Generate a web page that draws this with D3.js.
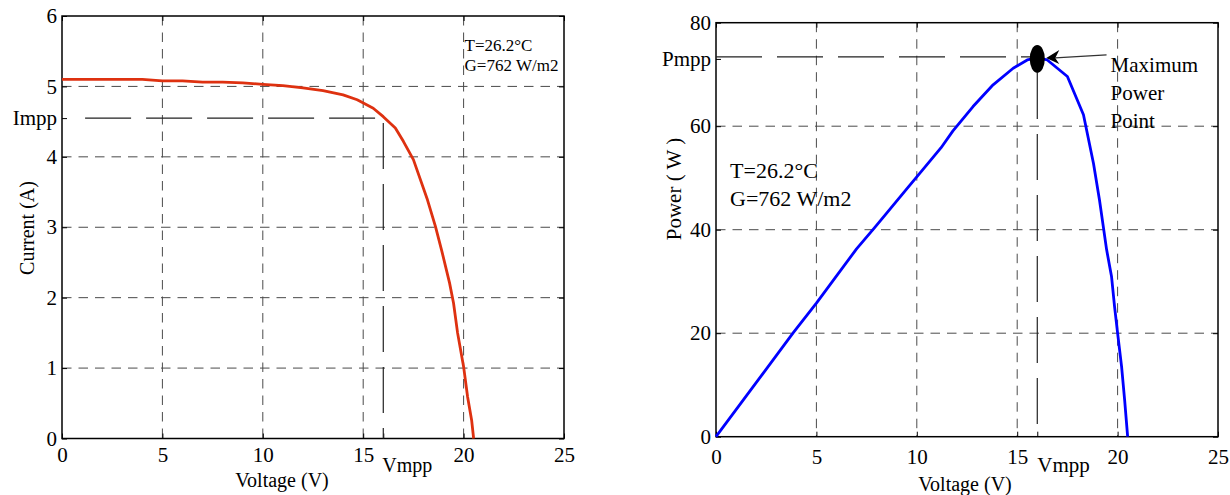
<!DOCTYPE html>
<html>
<head>
<meta charset="utf-8">
<script src="https://cdn.jsdelivr.net/npm/d3@7"></script>
<style>
  body { margin: 0; background: #fff; }
  svg { display: block; font-family: "Liberation Serif", "Times New Roman", serif; }
</style>
</head>
<body>
<svg id="fig" width="1230" height="495"></svg>
<script>
// ---- data ----
const voltageTicks = [0, 5, 10, 15, 20, 25];
const currentTicks = [0, 1, 2, 3, 4, 5, 6];
const powerTicks   = [0, 20, 40, 60, 80];

// I–V characteristic (V, A)
const ivVoltage = [0, 2, 4, 5, 6, 7, 8, 9, 10, 11, 12, 13, 14, 14.7, 15.5, 16, 16.6, 17, 17.5, 18.2, 18.6, 18.9, 19.3, 19.5, 19.7, 20, 20.2, 20.4, 20.5];
const ivCurrent = [5.10, 5.10, 5.10, 5.08, 5.08, 5.06, 5.06, 5.05, 5.03, 5.01, 4.98, 4.94, 4.88, 4.81, 4.69, 4.57, 4.41, 4.22, 3.96, 3.39, 3.01, 2.68, 2.21, 1.92, 1.50, 1.02, 0.59, 0.26, 0];

// P–V characteristic (V, W)
const pvVoltage = [0, 3.85, 5, 7.0, 7.9, 8.5, 9.5, 10.3, 11.2, 11.8, 12.8, 13.8, 14.8, 15.5, 16.0, 16.5, 17.5, 18.3, 18.8, 19.1, 19.45, 19.7, 19.85, 20.0, 20.2, 20.35, 20.5];
const pvPower   = [0, 20.1, 25.8, 36.3, 40.4, 43.2, 47.9, 51.6, 55.8, 59.1, 63.8, 68.0, 71.2, 72.8, 73.2, 72.8, 69.6, 62.2, 52.8, 45.7, 36.2, 30.9, 25.1, 20.0, 13.5, 7.1, 0];

// maximum power point
const Vmpp = 16.0, Impp = 4.55, Pmpp = 73.0;
const conditions = ["T=26.2°C", "G=762 W/m2"];
const mppLabel = ["Maximum", "Power", "Point"];

// ---- drawing ----
const svg = d3.select("#fig");
const gridDash = "9.5,7";
const refDash = "46,15";

function panel(o) {
  const x = d3.scaleLinear().domain([0, 25]).range([o.x0, o.x1]);
  const y = d3.scaleLinear().domain([o.yTicks[0], o.yTicks[o.yTicks.length - 1]]).range([o.y1, o.y0]);
  const g = svg.append("g");

  // dashed grid
  g.selectAll("line.vg").data(voltageTicks.slice(1, -1)).join("line")
    .attr("class", "vg")
    .attr("x1", d => x(d)).attr("x2", d => x(d))
    .attr("y1", o.y0).attr("y2", o.y1)
    .attr("stroke", "#4a4a4a").attr("stroke-width", 1).attr("stroke-dasharray", gridDash);
  g.selectAll("line.hg").data(o.yTicks.slice(1, -1)).join("line")
    .attr("class", "hg")
    .attr("y1", d => y(d)).attr("y2", d => y(d))
    .attr("x1", o.x0).attr("x2", o.x1)
    .attr("stroke", "#4a4a4a").attr("stroke-width", 1).attr("stroke-dasharray", gridDash);

  const styleAxis = sel => {
    sel.attr("font-family", null).attr("font-size", null);
    sel.select(".domain").remove();
    sel.selectAll(".tick line").attr("stroke", "#000").attr("stroke-width", 1);
    sel.selectAll(".tick text").attr("fill", "#000").style("font-size", o.tickFont + "px");
  };

  g.append("g").attr("transform", `translate(0,${o.y1})`)
    .call(d3.axisBottom(x).tickValues(voltageTicks.concat([Vmpp])).tickSize(-5).tickPadding(o.xPad)
      .tickFormat(d => d === Vmpp ? "" : d))
    .call(styleAxis);
  g.append("g").attr("transform", `translate(${o.x0},0)`)
    .call(d3.axisLeft(y).tickValues(o.yTicks.concat([o.mppValue])).tickSize(-5).tickPadding(5)
      .tickFormat(d => d === o.mppValue ? o.mppName : d))
    .call(styleAxis);
  g.append("g").attr("transform", `translate(0,${o.y0})`)
    .call(d3.axisTop(x).tickValues(voltageTicks).tickSize(-5).tickFormat(""))
    .call(styleAxis);
  g.append("g").attr("transform", `translate(${o.x1},0)`)
    .call(d3.axisRight(y).tickValues(o.yTicks).tickSize(-5).tickFormat(""))
    .call(styleAxis);

  // axes box
  g.append("rect")
    .attr("x", o.x0).attr("y", o.y0)
    .attr("width", o.x1 - o.x0).attr("height", o.y1 - o.y0)
    .attr("fill", "none").attr("stroke", "#000").attr("stroke-width", 1.5);

  return { x, y, g };
}

// ---------- left: current vs voltage ----------
const L = panel({ x0: 62, x1: 564, y0: 16, y1: 438.5, yTicks: currentTicks,
                  mppValue: Impp, mppName: "Impp", tickFont: 21, xPad: 9 });

// reference lines at Impp / Vmpp
L.g.append("line")
  .attr("x1", L.x(1.15)).attr("x2", L.x(Vmpp))
  .attr("y1", L.y(Impp)).attr("y2", L.y(Impp))
  .attr("stroke", "#222").attr("stroke-width", 1.2).attr("stroke-dasharray", refDash);
L.g.append("line")
  .attr("x1", L.x(Vmpp)).attr("x2", L.x(Vmpp))
  .attr("y1", L.y(Impp) + 5).attr("y2", L.y(0))
  .attr("stroke", "#222").attr("stroke-width", 1.2).attr("stroke-dasharray", refDash);

L.g.append("path")
  .datum(d3.zip(ivVoltage, ivCurrent))
  .attr("fill", "none").attr("stroke", "#de3110").attr("stroke-width", 2.8)
  .attr("stroke-linejoin", "round")
  .attr("d", d3.line().x(d => L.x(d[0])).y(d => L.y(d[1])));

L.g.selectAll("text.cond").data(conditions).join("text")
  .attr("class", "cond")
  .attr("x", L.x(20) + 1).attr("y", (d, i) => 51 + i * 20)
  .style("font-size", "17px").text(d => d);

L.g.append("text").attr("x", L.x(Vmpp) - 1).attr("y", 472)
  .style("font-size", "20px").text("Vmpp");
L.g.append("text").attr("x", 282).attr("y", 487).attr("text-anchor", "middle")
  .style("font-size", "20px").text("Voltage (V)");
L.g.append("text").attr("transform", "translate(34,228) rotate(-90)").attr("text-anchor", "middle")
  .style("font-size", "20px").text("Current (A)");

// ---------- right: power vs voltage ----------
const R = panel({ x0: 716, x1: 1218, y0: 22.7, y1: 436.7, yTicks: powerTicks,
                  mppValue: Pmpp, mppName: "Pmpp", tickFont: 21, xPad: 12 });

R.g.append("line")
  .attr("x1", R.x(0)).attr("x2", R.x(Vmpp) - 7)
  .attr("y1", R.y(Pmpp) - 2).attr("y2", R.y(Pmpp) - 2)
  .attr("stroke", "#222").attr("stroke-width", 1.2).attr("stroke-dasharray", refDash);
R.g.append("line")
  .attr("x1", R.x(Vmpp)).attr("x2", R.x(Vmpp))
  .attr("y1", R.y(Pmpp) + 14).attr("y2", R.y(0))
  .attr("stroke", "#222").attr("stroke-width", 1.2).attr("stroke-dasharray", refDash);

R.g.append("path")
  .datum(d3.zip(pvVoltage, pvPower))
  .attr("fill", "none").attr("stroke", "#0000ff").attr("stroke-width", 2.8)
  .attr("stroke-linejoin", "round")
  .attr("d", d3.line().x(d => R.x(d[0])).y(d => R.y(d[1])));

// maximum power point marker
R.g.append("ellipse")
  .attr("cx", R.x(Vmpp)).attr("cy", R.y(Pmpp))
  .attr("rx", 7.5).attr("ry", 14).attr("fill", "#000");

// arrow pointing at the MPP
const tipX = R.x(Vmpp) + 9, tipY = R.y(Pmpp) - 1;
R.g.append("line")
  .attr("x1", R.x(19.45)).attr("y1", R.y(Pmpp) - 4)
  .attr("x2", tipX + 9).attr("y2", tipY)
  .attr("stroke", "#333").attr("stroke-width", 1.2);
R.g.append("path")
  .attr("d", `M${tipX},${tipY} L${tipX + 13},${tipY - 8} L${tipX + 9},${tipY} L${tipX + 13},${tipY + 6} Z`)
  .attr("fill", "#000");

R.g.selectAll("text.mpp").data(mppLabel).join("text")
  .attr("class", "mpp")
  .attr("x", R.x(19.65)).attr("y", (d, i) => 72 + i * 28)
  .style("font-size", "21px").text(d => d);

R.g.selectAll("text.cond").data(conditions).join("text")
  .attr("class", "cond")
  .attr("x", R.x(0.7)).attr("y", (d, i) => 178 + i * 28)
  .style("font-size", "22px").text(d => d);

R.g.append("text").attr("x", R.x(Vmpp)).attr("y", 472)
  .style("font-size", "21px").text("Vmpp");
R.g.append("text").attr("x", 965).attr("y", 491).attr("text-anchor", "middle")
  .style("font-size", "20px").text("Voltage (V)");
R.g.append("text").attr("transform", "translate(681,189) rotate(-90)").attr("text-anchor", "middle")
  .style("font-size", "21px").text("Power ( W )");
</script>
</body>
</html>
